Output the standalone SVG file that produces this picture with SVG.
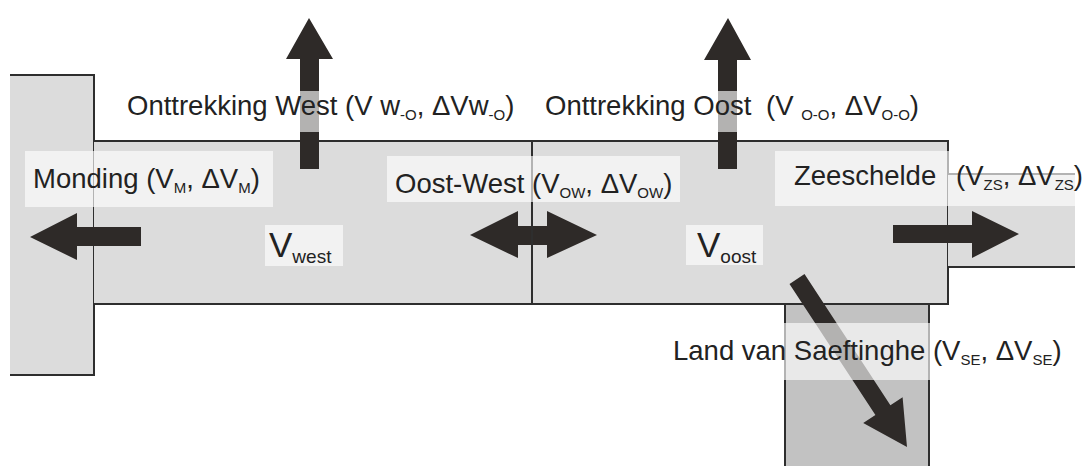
<svg xmlns="http://www.w3.org/2000/svg" width="1082" height="466" viewBox="0 0 1082 466">
<style>
.box{fill:#dcdcdc;stroke:none}
.dark{fill:#c2c2c2;stroke:none}
.edge{stroke:#2e2e2e;stroke-width:2;fill:none}
.arr{fill:#2e2a28}
.lbg{fill:#ffffff;fill-opacity:0.64}
.t{font-family:"Liberation Sans",Arial,sans-serif;font-size:27.5px;fill:#222}
.s{font-size:15px}
.big{font-size:35px}
.bs{font-size:19px}
</style>
<rect width="1082" height="466" fill="#ffffff"/>
<g id="monding">
<rect class="box" x="10" y="75" width="84" height="300"/>
<path class="edge" d="M10 75H94V375H10"/>
</g>
<g id="west">
<rect class="box" x="94" y="141" width="438" height="163"/>
<path class="edge" d="M94 141H532V304H94"/>
</g>
<g id="oost">
<rect class="box" x="532" y="141" width="416" height="163"/>
<path class="edge" d="M532 141H948V304H532Z"/>
</g>
<g id="zeeschelde">
<rect class="box" x="948" y="174" width="127" height="93"/>
<path class="edge" d="M948 174H1075M948 267H1075"/>
</g>
<g id="saeftinghe">
<rect class="dark" x="785" y="305" width="144" height="161"/>
<path class="edge" d="M785 305V466M929 305V466"/>
</g>
<g id="connectors">
<polygon class="arr" points="141,227 77,227 77,213 30,237 77,260 77,246 141,246"/>
<polygon class="arr" points="300,169 300,59 286,59 309,18 333,59 319,59 319,169"/>
<polygon class="arr" points="718,169 718,60 704,60 728,18 751,60 737,60 737,169"/>
<polygon class="arr" points="893,225 972,225 972,211 1019,234 972,258 972,243 893,243"/>
<polygon class="arr" points="518,226 547,226 547,211 597,235 547,258 547,245 518,245 518,258 470,235 518,211"/>
<polygon class="arr" points="804.5,274.1 890.4,405.3 902.6,397.3 907,447 863.2,423.1 875.4,415.1 789.5,283.9"/>
<line class="edge" x1="532" y1="211" x2="532" y2="258"/>
</g>
<g id="labels">
<g id="lbl-monding">
<rect class="lbg" x="25" y="151" width="248" height="56"/>
<text class="t" x="33" y="188">Monding (V<tspan class="s" dy="5">M</tspan><tspan dy="-5">, ΔV</tspan><tspan class="s" dy="5">M</tspan><tspan dy="-5">)</tspan></text>
</g>
<g id="lbl-ontw">
<rect class="lbg" x="120" y="91" width="405" height="41"/>
<text class="t" x="127" y="115">Onttrekking West (V w<tspan class="s" dy="5">-O</tspan><tspan dy="-5">, ΔVw</tspan><tspan class="s" dy="5">-O</tspan><tspan dy="-5">)</tspan></text>
</g>
<g id="lbl-onto">
<rect class="lbg" x="540" y="91" width="350" height="41"/>
<text class="t" x="545" y="115">Onttrekking Oost<tspan x="766">(V </tspan><tspan class="s" dy="5">O-O</tspan><tspan dy="-5">, ΔV</tspan><tspan class="s" dy="5">O-O</tspan><tspan dy="-5">)</tspan></text>
</g>
<g id="lbl-ow">
<rect class="lbg" x="387" y="156" width="293" height="46"/>
<text class="t" x="395" y="193">Oost-West (V<tspan class="s" dy="5">OW</tspan><tspan dy="-5">, ΔV</tspan><tspan class="s" dy="5">OW</tspan><tspan dy="-5">)</tspan></text>
</g>
<g id="lbl-zs">
<rect class="lbg" x="775" y="151" width="303" height="55"/>
<text class="t" x="794" y="185">Zeeschelde<tspan x="956">(V</tspan><tspan class="s" dy="5">ZS</tspan><tspan dy="-5">, ΔV</tspan><tspan class="s" dy="5">ZS</tspan><tspan dy="-5">)</tspan></text>
</g>
<g id="lbl-se">
<rect class="lbg" x="665" y="323" width="405" height="57"/>
<text class="t" x="673" y="360">Land van Saeftinghe (V<tspan class="s" dy="5">SE</tspan><tspan dy="-5">, ΔV</tspan><tspan class="s" dy="5">SE</tspan><tspan dy="-5">)</tspan></text>
</g>
<g id="lbl-vwest">
<rect class="lbg" x="265" y="225" width="78" height="41"/>
<text class="t big" x="269" y="257">V<tspan class="bs" dy="6">west</tspan></text>
</g>
<g id="lbl-voost">
<rect class="lbg" x="686" y="225" width="77" height="40"/>
<text class="t big" x="697" y="257">V<tspan class="bs" dy="6">oost</tspan></text>
</g>
</g>
</svg>
